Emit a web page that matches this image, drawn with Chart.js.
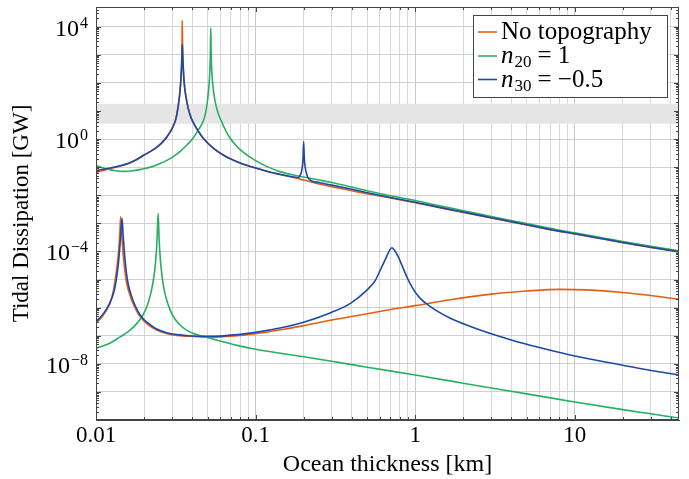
<!DOCTYPE html>
<html>
<head>
<meta charset="utf-8">
<script src="https://cdn.jsdelivr.net/npm/chart.js@4.4.0/dist/chart.umd.min.js"></script>
<style>
  html, body { margin: 0; padding: 0; background: #fff; }
  #wrap { width: 689px; height: 479px; position: relative; }
</style>
</head>
<body>
<div id="wrap"><canvas id="dissChart"></canvas></div>
<script>
// values; y values are log10(GW)
const orangeUpperX = [0.01, 0.012, 0.014, 0.016, 0.018, 0.02, 0.022, 0.024, 0.026, 0.028, 0.03, 0.0316, 0.0328, 0.0336, 0.0341, 0.0344, 0.0346, 0.0347, 0.0349, 0.0352, 0.0357, 0.0365, 0.0378, 0.0393, 0.0407, 0.044, 0.0471, 0.055, 0.065, 0.08, 0.1, 0.13, 0.17, 0.2, 0.25, 0.3, 0.4, 0.5, 0.7, 1, 1.5, 2, 3, 5, 7.9, 10, 15, 20, 30, 45];
const orangeUpperLog = [-1.19, -1.07, -0.97, -0.87, -0.73, -0.57, -0.44, -0.3, -0.12, 0.1, 0.38, 0.7, 1.2, 1.7, 2.2, 2.7, 3.4, 4.22, 3.3, 2.6, 2.0, 1.55, 1.1, 0.78, 0.58, 0.26, 0.02, -0.35, -0.62, -0.85, -1.03, -1.21, -1.36, -1.46, -1.6, -1.7, -1.84, -1.95, -2.1, -2.27, -2.47, -2.61, -2.81, -3.06, -3.28, -3.38, -3.56, -3.69, -3.86, -4.02];

const orangeLowerX = [0.01, 0.011, 0.0122, 0.0128, 0.0132, 0.0136, 0.0139, 0.0141, 0.01429, 0.0145, 0.0148, 0.0152, 0.0156, 0.0163, 0.0172, 0.0185, 0.0198, 0.022, 0.024, 0.028, 0.032, 0.038, 0.045, 0.055, 0.07, 0.1, 0.15, 0.2, 0.3, 0.5, 0.7, 1, 1.66, 3, 5, 8, 12, 20, 30, 45];
const orangeLowerLog = [-6.55, -6.3, -5.85, -5.45, -5.0, -4.45, -3.9, -3.35, -2.76, -3.4, -4.1, -4.75, -5.15, -5.55, -5.9, -6.25, -6.46, -6.68, -6.8, -6.93, -6.99, -7.02, -7.04, -7.05, -7.02, -6.93, -6.77, -6.64, -6.44, -6.22, -6.07, -5.93, -5.72, -5.52, -5.41, -5.35, -5.37, -5.46, -5.57, -5.7];

const greenUpperX = [0.01, 0.011, 0.012, 0.013, 0.015, 0.017, 0.019, 0.022, 0.025, 0.028, 0.031, 0.034, 0.037, 0.0402, 0.0435, 0.0471, 0.0487, 0.0498, 0.0508, 0.0515, 0.052, 0.0524, 0.0527, 0.0532, 0.054, 0.0555, 0.058, 0.0614, 0.065, 0.0683, 0.074, 0.08, 0.09, 0.1, 0.12, 0.142, 0.17, 0.2, 0.25, 0.3, 0.4, 0.5, 0.7, 1, 1.5, 2, 3, 5, 7.9, 10, 15, 20, 30, 45];
const greenUpperLog = [-0.94, -1.02, -1.08, -1.12, -1.15, -1.13, -1.08, -1.0, -0.88, -0.75, -0.6, -0.42, -0.22, 0.0, 0.3, 0.65, 0.95, 1.3, 1.75, 2.25, 2.85, 3.96, 3.0, 2.4, 1.9, 1.4, 0.95, 0.6, 0.3, 0.08, -0.18, -0.38, -0.6, -0.77, -1.0, -1.16, -1.27, -1.35, -1.46, -1.55, -1.71, -1.84, -2.02, -2.19, -2.4, -2.55, -2.76, -3.01, -3.24, -3.34, -3.52, -3.65, -3.82, -3.98];

const greenLowerX = [0.01, 0.0106, 0.0122, 0.0141, 0.016, 0.018, 0.0196, 0.0208, 0.0218, 0.0226, 0.0233, 0.0239, 0.0242, 0.0245, 0.0248, 0.0251, 0.0256, 0.0264, 0.0275, 0.0291, 0.031, 0.0336, 0.037, 0.0407, 0.045, 0.055, 0.065, 0.08, 0.1, 0.15, 0.2, 0.3, 0.5, 1, 2, 3, 5, 10, 20, 30, 45];
const greenLowerLog = [-7.44, -7.4, -7.27, -7.05, -6.85, -6.57, -6.28, -5.98, -5.6, -5.2, -4.7, -4.0, -3.4, -2.64, -3.4, -4.0, -4.6, -5.2, -5.66, -6.08, -6.38, -6.62, -6.8, -6.92, -7.0, -7.13, -7.24, -7.37, -7.48, -7.64, -7.75, -7.91, -8.12, -8.4, -8.69, -8.86, -9.07, -9.36, -9.63, -9.78, -9.93];

const blueUpperX = [0.01, 0.012, 0.014, 0.016, 0.018, 0.02, 0.022, 0.024, 0.026, 0.028, 0.03, 0.0316, 0.0328, 0.0336, 0.0341, 0.0344, 0.0346, 0.0347, 0.0349, 0.0352, 0.0357, 0.0365, 0.0378, 0.0393, 0.0407, 0.044, 0.0471, 0.055, 0.065, 0.08, 0.1, 0.13, 0.17, 0.185, 0.19, 0.195, 0.198, 0.2, 0.202, 0.206, 0.212, 0.22, 0.25, 0.3, 0.4, 0.5, 0.7, 1, 1.5, 2, 3, 5, 7.9, 10, 15, 20, 30, 45];
const blueUpperLog = [-1.12, -1.04, -0.96, -0.86, -0.73, -0.57, -0.44, -0.3, -0.12, 0.1, 0.38, 0.7, 1.2, 1.7, 2.2, 2.65, 3.1, 3.37, 3.05, 2.55, 2.0, 1.55, 1.1, 0.78, 0.58, 0.26, 0.02, -0.35, -0.62, -0.85, -1.03, -1.21, -1.34, -1.37, -1.3, -1.1, -0.75, -0.09, -0.7, -1.1, -1.35, -1.46, -1.55, -1.64, -1.79, -1.91, -2.08, -2.25, -2.46, -2.6, -2.8, -3.05, -3.27, -3.37, -3.55, -3.68, -3.85, -4.01];

const blueLowerX = [0.01, 0.011, 0.0122, 0.013, 0.0134, 0.0138, 0.0141, 0.0143, 0.01456, 0.0148, 0.0151, 0.0155, 0.0159, 0.0166, 0.0175, 0.0188, 0.0201, 0.022, 0.024, 0.028, 0.032, 0.038, 0.045, 0.055, 0.07, 0.1, 0.15, 0.2, 0.293, 0.391, 0.498, 0.56, 0.604, 0.66, 0.69, 0.715, 0.74, 0.78, 0.82, 0.87, 0.93, 1.0, 1.08, 1.18, 1.35, 1.66, 2.5, 4, 6, 10, 20, 30, 45];
const blueLowerLog = [-6.51, -6.25, -5.85, -5.4, -5.0, -4.45, -3.85, -3.35, -2.82, -3.45, -4.1, -4.75, -5.15, -5.55, -5.9, -6.24, -6.44, -6.62, -6.76, -6.9, -6.96, -7.0, -7.02, -7.02, -6.98, -6.88, -6.7, -6.52, -6.19, -5.86, -5.38, -5.05, -4.67, -4.2, -3.97, -3.87, -3.95, -4.17, -4.45, -4.8, -5.15, -5.45, -5.68, -5.87, -6.1, -6.38, -6.78, -7.15, -7.42, -7.72, -8.05, -8.24, -8.4];

// shaded range (GW)
const bandRange = [3.5, 18];

const seriesNames = ["No topography", "n20 = 1", "n30 = -0.5"];
const seriesColors = ["#e85d12", "#2aae62", "#1a4aa8"];

const xLabelDecades = [-2, -1, 0, 1];
const yDecades = [-10, -9, -8, -7, -6, -5, -4, -3, -2, -1, 0, 1, 2, 3, 4];
const yLabelExps = [4, 0, -4, -8];

const FONT = "'Liberation Serif', 'Times New Roman', serif";

function pts(xs, logs) {
  return xs.map((x, i) => ({ x: x, y: Math.pow(10, logs[i]) }));
}

function lineSet(xs, logs, color, order) {
  return {
    data: pts(xs, logs),
    borderColor: color,
    backgroundColor: color,
    borderWidth: 1.6,
    pointRadius: 0,
    fill: false,
    cubicInterpolationMode: "monotone",
    order: order
  };
}

const X_MIN = 0.01, X_MAX = 45, Y_MIN = 1e-10, Y_MAX = 5e4;

// 1..9 x each decade for x ticks
const xTickValues = [];
xLabelDecades.forEach(d => {
  for (let m = 1; m <= 9; m++) {
    const v = Number((m * Math.pow(10, d)).toPrecision(3));
    if (v >= X_MIN && v <= X_MAX) xTickValues.push(v);
  }
});
const yMinorValues = [];
yDecades.forEach(d => {
  for (let m = 1; m <= 9; m++) {
    const v = m * Math.pow(10, d);
    if (v >= Y_MIN && v <= Y_MAX) yMinorValues.push(v);
  }
});

function isMajor(v) {
  const l = Math.log10(v);
  return Math.abs(l - Math.round(l)) < 1e-6;
}

const decor = {
  id: "decor",
  beforeDatasetsDraw(chart) {
    const { ctx, chartArea: a, scales: { y } } = chart;
    const t = y.getPixelForValue(bandRange[1]);
    const b = y.getPixelForValue(bandRange[0]);
    ctx.save();
    ctx.fillStyle = "#e5e5e5";
    ctx.fillRect(a.left, t, a.right - a.left, b - t);
    ctx.restore();
  },
  afterDraw(chart) {
    const { ctx, chartArea: a, scales: { x, y } } = chart;
    ctx.save();
    ctx.strokeStyle = "#444";
    ctx.lineWidth = 1;
    ctx.strokeRect(Math.round(a.left) + 0.5, Math.round(a.top) + 0.5,
      Math.round(a.right - a.left) - 1, Math.round(a.bottom - a.top) - 1);

    // axis tick marks
    ctx.beginPath();
    xTickValues.forEach(v => {
      const px = Math.round(x.getPixelForValue(v)) + 0.5;
      const len = isMajor(v) ? 5 : 3;
      ctx.moveTo(px, a.bottom); ctx.lineTo(px, a.bottom - len);
      ctx.moveTo(px, a.top); ctx.lineTo(px, a.top + len);
    });
    yMinorValues.forEach(v => {
      const py = Math.round(y.getPixelForValue(v)) + 0.5;
      const len = isMajor(v) ? 5 : 3;
      ctx.moveTo(a.left, py); ctx.lineTo(a.left + len, py);
      ctx.moveTo(a.right, py); ctx.lineTo(a.right - len, py);
    });
    ctx.stroke();

    // y tick labels 10^n
    ctx.fillStyle = "#000";
    ctx.textBaseline = "alphabetic";
    yLabelExps.forEach(e => {
      const py = y.getPixelForValue(Math.pow(10, e));
      const sup = (e < 0 ? "\u2212" : "") + Math.abs(e);
      ctx.font = "16px " + FONT;
      const sw = ctx.measureText(sup).width;
      const right = a.left - 8;
      ctx.textAlign = "left";
      ctx.fillText(sup, right - sw, py + 1);
      ctx.font = "24px " + FONT;
      ctx.textAlign = "right";
      ctx.fillText("10", right - sw - 1, py + 9);
    });

    // legend
    const lx = 473, ly = 15, lw = 194, lh = 82;
    ctx.fillStyle = "#fff";
    ctx.fillRect(lx, ly, lw, lh);
    ctx.strokeStyle = "#444";
    ctx.strokeRect(lx + 0.5, ly + 0.5, lw, lh);
    const rows = [32, 56, 79.5];
    rows.forEach((ry, i) => {
      ctx.strokeStyle = seriesColors[i];
      ctx.lineWidth = 1.6;
      ctx.beginPath();
      ctx.moveTo(478, ry); ctx.lineTo(497, ry);
      ctx.stroke();
      ctx.fillStyle = "#000";
      ctx.textAlign = "left";
      let tx = 501;
      const base = ry + 7;
      if (i === 0) {
        ctx.font = "25px " + FONT;
        ctx.fillText(seriesNames[0], tx, base);
      } else {
        const parts = seriesNames[i].split(" = ");
        ctx.font = "italic 25px " + FONT;
        ctx.fillText("n", tx, base);
        tx += ctx.measureText("n").width + 1;
        ctx.font = "17px " + FONT;
        const sub = parts[0].slice(1);
        ctx.fillText(sub, tx, base + 4);
        tx += ctx.measureText(sub).width + 6;
        ctx.font = "25px " + FONT;
        const val = parts[1].replace("-", "\u2212");
        ctx.fillText("= " + val, tx, base);
      }
    });
    ctx.restore();
  }
};

new Chart(document.getElementById("dissChart").getContext("2d"), {
  type: "line",
  data: {
    datasets: [
      lineSet(orangeUpperX, orangeUpperLog, seriesColors[0], 2),
      lineSet(orangeLowerX, orangeLowerLog, seriesColors[0], 2),
      lineSet(greenUpperX, greenUpperLog, seriesColors[1], 1),
      lineSet(greenLowerX, greenLowerLog, seriesColors[1], 1),
      lineSet(blueUpperX, blueUpperLog, seriesColors[2], 0),
      lineSet(blueLowerX, blueLowerLog, seriesColors[2], 0)
    ]
  },
  options: {
    responsive: true,
    maintainAspectRatio: false,
    animation: false,
    devicePixelRatio: 1,
    layout: { padding: { top: 7, right: 10, left: 0, bottom: 0 } },
    plugins: { legend: { display: false }, tooltip: { enabled: false } },
    scales: {
      x: {
        type: "logarithmic",
        min: X_MIN,
        max: X_MAX,
        afterBuildTicks(scale) { scale.ticks = xTickValues.map(v => ({ value: v })); },
        afterFit(scale) { scale.height = 59; },
        ticks: {
          autoSkip: false,
          maxRotation: 0,
          padding: 2,
          color: "#000",
          font: { family: FONT, size: 23 },
          callback: v => (isMajor(v) ? String(v) : "")
        },
        grid: {
          drawTicks: false,
          color: c => (c.tick && isMajor(c.tick.value) ? "#c8c8c8" : "#d9d9d9")
        },
        border: { color: "#444" },
        title: {
          display: true,
          text: "Ocean thickness [km]",
          color: "#000",
          font: { family: FONT, size: 24 },
          padding: { top: 0, bottom: 0 }
        }
      },
      y: {
        type: "logarithmic",
        min: Y_MIN,
        max: Y_MAX,
        afterBuildTicks(scale) { scale.ticks = yDecades.map(d => ({ value: Math.pow(10, d) })); },
        afterFit(scale) { scale.width = 96; },
        ticks: { display: false },
        grid: { drawTicks: false, color: "#d0d0d0" },
        border: { color: "#444" },
        title: {
          display: true,
          text: "Tidal Dissipation [GW]",
          color: "#000",
          font: { family: FONT, size: 23 },
          padding: { top: 8, bottom: 0 }
        }
      }
    }
  },
  plugins: [decor]
});
</script>
</body>
</html>
